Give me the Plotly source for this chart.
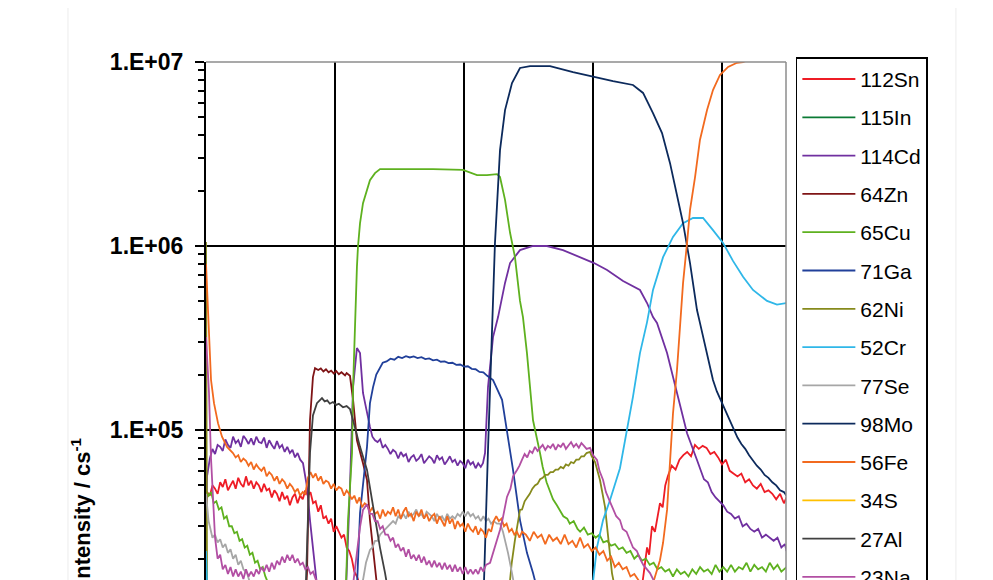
import plotly.graph_objects as go

# depth profile, (time / s, intensity / cps)
sn112 = [(0, 3.5e4), (0.8, 4.6e4), (3, 4.4e4), (5, 5.0e4), (7, 4.8e4), (9, 4.5e4), (11, 5.2e4),
         (13, 4.9e4), (15, 5.4e4), (17, 4.7e4), (19, 5.0e4), (21, 5.3e4), (23, 4.8e4), (25, 5.5e4),
         (27, 5.1e4), (29, 4.9e4), (31, 5.6e4), (33, 5.0e4), (35, 5.3e4), (37, 4.8e4), (39, 5.2e4),
         (41, 5.0e4), (43, 4.6e4), (45, 5.1e4), (47, 4.7e4), (49, 4.8e4), (51, 4.3e4), (53, 4.7e4),
         (55, 4.5e4), (57, 4.1e4), (59, 4.6e4), (61, 4.2e4), (63, 4.4e4), (65, 3.9e4), (67, 4.3e4),
         (69, 4.5e4), (71, 4.0e4), (73, 4.4e4), (75, 4.2e4), (77, 4.7e4), (79, 4.4e4), (81, 4.6e4),
         (83, 4.0e4), (85, 4.1e4), (87, 3.6e4), (89, 3.9e4), (91, 3.3e4), (93, 3.4e4), (95, 3.1e4),
         (97, 3.3e4), (99, 2.8e4), (101, 3.0e4), (103, 2.8e4), (105, 2.6e4), (107, 2.7e4),
         (109, 2.3e4), (111, 2.2e4), (113, 2.0e4), (115, 1.7e4), (117, 1.6e4), (123, 1.2e4),
         (140, 7e3), (200, 6e3), (260, 6e3), (320, 7e3), (336.4, 1.2e4), (339, 1.6e4),
         (341.9, 2.3e4), (343.5, 2.1e4), (345.7, 3.0e4), (348, 2.8e4), (351.9, 4.0e4), (354, 3.8e4),
         (356, 5.0e4), (358, 5.6e4), (361, 6.4e4), (364, 6.1e4), (367, 6.9e4), (370, 7.3e4),
         (373, 7.6e4), (376, 7.2e4), (379, 8.3e4), (382, 7.9e4), (385, 8.2e4), (388, 8.0e4),
         (391, 7.4e4), (394, 7.6e4), (397, 7.1e4), (400, 6.5e4), (403, 6.9e4), (406, 6.0e4),
         (409, 5.8e4), (412, 5.6e4), (415, 5.8e4), (418, 5.2e4), (421, 5.4e4), (424, 5.0e4),
         (427, 4.8e4), (430, 5.1e4), (433, 4.6e4), (436, 4.7e4), (439, 4.5e4), (442, 4.2e4),
         (445, 4.5e4), (448, 4.0e4), (450, 4.3e4)]
in115 = [(0, 1.2e4), (2, 5e3), (100, 4e3), (200, 3e3), (300, 3e3), (450, 2.5e3)]
cd114 = [(0, 3.0e4), (0.8, 5.6e4), (3, 7.0e4), (5, 7.9e4), (7, 7.4e4), (9, 8.3e4), (11, 8.1e4),
         (13, 7.7e4), (15, 8.9e4), (17, 8.3e4), (19, 8.0e4), (21, 9.2e4), (23, 8.5e4), (25, 8.8e4),
         (27, 8.1e4), (29, 9.3e4), (31, 8.9e4), (33, 8.4e4), (35, 9.0e4), (37, 8.3e4), (39, 9.2e4),
         (41, 8.6e4), (43, 8.5e4), (45, 9.1e4), (47, 8.0e4), (49, 8.8e4), (51, 8.3e4), (53, 7.9e4),
         (55, 8.7e4), (57, 8.0e4), (59, 8.3e4), (61, 7.6e4), (63, 8.1e4), (65, 7.5e4), (67, 7.8e4),
         (69, 7.1e4), (71, 7.5e4), (73, 6.9e4), (75.2, 6.6e4), (78.3, 4.9e4), (80.6, 3.24e4),
         (84.5, 1.67e4), (88.4, 1.0e4), (100, 8e3), (107.8, 1.0e4), (111.6, 4.9e4), (114, 1.71e5),
         (117, 2.79e5), (119.4, 2.62e5), (121.7, 1.59e5), (124, 1.3e5), (127.1, 1.04e5),
         (129, 9.2e4), (131, 8.8e4), (133, 8.6e4), (135, 8.9e4), (137, 8.0e4), (139, 8.3e4),
         (141, 7.9e4), (143, 7.4e4), (145, 7.8e4), (147, 7.6e4), (149, 7.0e4), (151, 7.6e4),
         (153, 7.2e4), (155, 7.4e4), (157, 6.7e4), (159, 7.1e4), (161, 7.3e4), (163, 6.8e4),
         (165, 7.0e4), (167, 7.4e4), (169, 6.6e4), (171, 6.9e4), (173, 7.2e4), (175, 7.0e4),
         (177, 6.6e4), (179, 7.3e4), (181, 6.9e4), (183, 7.1e4), (185, 6.5e4), (187, 6.8e4),
         (189, 7.2e4), (191, 6.7e4), (193, 6.9e4), (195, 6.4e4), (197, 6.8e4), (199, 6.6e4),
         (201, 6.2e4), (203, 6.9e4), (205, 6.5e4), (207, 6.7e4), (209, 6.2e4), (211, 6.6e4),
         (213, 6.3e4), (214.7, 6.6e4), (216.3, 7.5e4), (218.6, 1.71e5), (222.5, 3.2e5),
         (226.4, 4.11e5), (231.8, 6.3e5), (235.7, 8.08e5), (243.4, 9.5e5), (253.5, 1.0e6),
         (264.3, 1.0e6), (276.7, 9.5e5), (289.9, 8.7e5), (300.8, 8.08e5), (310.9, 7.4e5),
         (323.3, 6.46e5), (336.4, 5.77e5), (341.9, 4.9e5), (346.5, 4.11e5), (349.6, 3.82e5),
         (357.4, 2.62e5), (365.1, 1.59e5), (372.9, 9.6e4), (380.6, 6.87e4), (383, 6.1e4),
         (386, 5.4e4), (389, 5.2e4), (392, 4.6e4), (395, 4.3e4), (398, 4.1e4), (401, 3.9e4),
         (404, 3.6e4), (407, 3.5e4), (410, 3.3e4), (413, 3.4e4), (416, 3.0e4), (419, 3.1e4),
         (422, 2.9e4), (425, 2.8e4), (428, 2.9e4), (431, 2.6e4), (434, 2.7e4), (437, 2.6e4),
         (440, 2.5e4), (443, 2.6e4), (446, 2.3e4), (448.8, 2.4e4), (450, 2.2e4)]
zn64 = [(0, 4e3), (70, 5e3), (76.7, 1.0e4), (78.3, 1.67e4), (80.6, 1.13e5), (82.9, 1.94e5),
        (84.5, 2.17e5), (87, 2.12e5), (89, 2.16e5), (91, 2.08e5), (93, 2.14e5), (95, 2.06e5),
        (97, 2.1e5), (99, 2.03e5), (101, 2.09e5), (103, 2.01e5), (105, 2.06e5), (107.8, 1.98e5),
        (109, 2.04e5), (111.6, 1.97e5), (114, 1.46e5), (117, 8.8e4), (121.7, 6.6e4),
        (124.8, 5.35e4), (127.1, 3.24e4), (129.5, 2.15e4), (134.9, 1.0e4), (145, 5e3), (450, 3e3)]
cu65 = [(0, 4.7e4), (2, 4.4e4), (4, 4.6e4), (6, 4.0e4), (8, 4.1e4), (10, 3.7e4), (12, 3.8e4),
        (14, 3.3e4), (16, 3.4e4), (18, 3.0e4), (20, 3.0e4), (22, 2.75e4), (24, 2.8e4), (26, 2.5e4),
        (28, 2.55e4), (30, 2.3e4), (32, 2.35e4), (34, 2.1e4), (36, 2.15e4), (38, 1.9e4),
        (40, 1.95e4), (42, 1.75e4), (44, 1.8e4), (46, 1.6e4), (49.6, 1.4e4), (65, 1.0e4),
        (96.1, 8e3), (107.8, 1.0e4), (110.1, 3.24e4), (113.2, 7.5e4), (114, 1.71e5),
        (115.5, 4.11e5), (117, 7.7e5), (117.8, 9.9e5), (119.4, 1.33e6), (121.7, 1.71e6),
        (124.8, 2.01e6), (127.1, 2.28e6), (131, 2.49e6), (134.9, 2.62e6), (150.4, 2.62e6),
        (176, 2.62e6), (199.2, 2.59e6), (210.1, 2.43e6), (217.8, 2.43e6), (225.6, 2.46e6),
        (227.9, 2.37e6), (231.8, 1.78e6), (235.7, 1.18e6), (239.5, 8.7e5), (243.4, 5.03e5),
        (245.7, 4.11e5), (248.8, 2.62e5), (253.5, 1.13e5), (258.9, 7.5e4), (261, 6.3e4),
        (264, 5.2e4), (267, 4.6e4), (269, 4.2e4), (272, 3.9e4), (275, 3.6e4), (277, 3.4e4),
        (280, 3.3e4), (282, 3.1e4), (285, 3.2e4), (288, 2.9e4), (290, 2.8e4), (293, 2.95e4),
        (296, 2.7e4), (299, 2.75e4), (302, 2.6e4), (305, 2.7e4), (308, 2.45e4), (311, 2.5e4),
        (314, 2.35e4), (317, 2.4e4), (320, 2.25e4), (323, 2.3e4), (326, 2.15e4), (329, 2.2e4),
        (332, 2.0e4), (335, 2.1e4), (338, 1.95e4), (341, 2.0e4), (344, 1.85e4), (347, 1.9e4),
        (350, 1.75e4), (353, 1.8e4), (356, 1.7e4), (359, 1.75e4), (362, 1.6e4), (365, 1.75e4),
        (368, 1.65e4), (371, 1.7e4), (374, 1.6e4), (377, 1.75e4), (380, 1.65e4), (383, 1.8e4),
        (386, 1.7e4), (389, 1.75e4), (392, 1.65e4), (395, 1.85e4), (398, 1.7e4), (401, 1.8e4),
        (404, 1.7e4), (407, 1.85e4), (410, 1.7e4), (413, 1.8e4), (416, 1.75e4), (419, 1.9e4),
        (422, 1.7e4), (425, 1.85e4), (428, 1.75e4), (431, 1.8e4), (434, 1.7e4), (437, 1.9e4),
        (440, 1.75e4), (443, 1.85e4), (446, 1.7e4), (450, 1.8e4)]
ga71 = [(0, 3e3), (100, 4e3), (111.6, 1.0e4), (117, 1.4e4), (119.4, 3.54e4), (121.7, 4.9e4),
        (124.8, 8.1e4), (127.1, 1.4e5), (129.5, 1.71e5), (132, 2.0e5), (134.9, 2.2e5),
        (137, 2.32e5), (140, 2.36e5), (143, 2.44e5), (146, 2.41e5), (149, 2.5e5), (152, 2.46e5),
        (155, 2.52e5), (158, 2.48e5), (161, 2.51e5), (164, 2.46e5), (167, 2.49e5), (170, 2.43e5),
        (173, 2.45e5), (176, 2.39e5), (179, 2.41e5), (182, 2.35e5), (185, 2.36e5), (188, 2.31e5),
        (191, 2.32e5), (194, 2.26e5), (197, 2.27e5), (200, 2.21e5), (203, 2.22e5), (206, 2.15e5),
        (209, 2.14e5), (212, 2.07e5), (215, 2.06e5), (218, 1.97e5), (222.5, 1.87e5),
        (229.5, 1.46e5), (233.3, 9.9e4), (238, 6.07e4), (243.4, 3.24e4), (248.8, 2.15e4),
        (253.5, 1.67e4), (258.9, 1.2e4), (270, 6e3), (450, 3e3)]
ni62 = [(0, 1.05e6), (0.8, 1.5e4), (6, 1.45e4), (30, 1.2e4), (60, 1.4e4), (100, 1.0e4),
        (200, 1.0e4), (230, 1.2e4), (235.7, 1.53e4), (237, 1.9e4), (239.5, 2.53e4), (241, 2.9e4),
        (243.4, 3.68e4), (245, 3.7e4), (247, 4.1e4), (249, 4.3e4), (251, 4.5e4), (253, 4.8e4),
        (255, 5.0e4), (257, 5.1e4), (259, 5.4e4), (261, 5.5e4), (263, 5.7e4), (265, 5.7e4),
        (267, 5.9e4), (269, 5.9e4), (271, 6.1e4), (273, 6.1e4), (275, 6.3e4), (277, 6.2e4),
        (279, 6.5e4), (281, 6.4e4), (283, 6.7e4), (285, 6.6e4), (287, 6.9e4), (289, 6.9e4),
        (291, 7.2e4), (293, 7.2e4), (295, 7.5e4), (297.7, 7.6e4), (299, 7.2e4), (301.6, 6.7e4),
        (305.4, 5.35e4), (309.3, 3.82e4), (311.6, 2.62e4), (314.7, 1.67e4), (320.9, 1.0e4),
        (340, 6e3), (450, 5e3)]
cr52 = [(0, 2.2e4), (1.5, 1.0e4), (5, 5e3), (100, 4e3), (290, 5e3), (297.7, 1.0e4), (300, 1.5e4),
        (303.1, 2.31e4), (307.8, 3.24e4), (313.2, 4.17e4), (320.9, 6.2e4), (326.4, 9.9e4),
        (331, 1.52e5), (336.4, 2.62e5), (341.9, 3.86e5), (346.5, 5.77e5), (354.3, 8.7e5),
        (362, 1.12e6), (369.8, 1.33e6), (377.5, 1.42e6), (385.3, 1.42e6), (393, 1.22e6),
        (400.8, 1.04e6), (408.5, 8.3e5), (416.3, 6.8e5), (424, 5.77e5), (434.9, 5.03e5),
        (442.6, 4.8e5), (448.8, 4.9e5), (450, 4.9e5)]
se77 = [(0, 4.5e4), (0.8, 4.0e4), (2, 3.2e4), (3.1, 2.97e4), (5, 2.6e4), (7, 2.7e4), (9, 2.45e4),
        (11, 2.55e4), (13, 2.3e4), (15, 2.4e4), (17, 2.15e4), (19, 2.25e4), (21, 2.0e4),
        (23, 2.1e4), (25, 1.85e4), (27, 1.95e4), (29, 1.75e4), (31.8, 1.67e4), (34, 1.5e4),
        (38, 1.2e4), (60, 7e3), (100, 6e3), (115.5, 1.0e4), (121.7, 1.53e4), (124, 1.9e4),
        (127.1, 2.23e4), (129, 2.3e4), (131, 2.5e4), (133, 2.5e4), (135, 2.7e4), (137, 2.8e4),
        (139, 2.9e4), (141, 3.0e4), (143, 3.1e4), (145, 3.2e4), (147, 3.1e4), (149, 3.4e4),
        (151, 3.3e4), (153, 3.5e4), (155, 3.3e4), (157, 3.6e4), (159, 3.4e4), (161, 3.5e4),
        (163, 3.7e4), (165, 3.4e4), (167, 3.5e4), (169, 3.3e4), (171, 3.6e4), (173, 3.5e4),
        (175, 3.4e4), (177, 3.2e4), (179, 3.5e4), (181, 3.3e4), (183, 3.4e4), (185, 3.2e4),
        (187, 3.5e4), (189, 3.3e4), (191, 3.4e4), (193, 3.3e4), (195, 3.5e4), (197, 3.4e4),
        (199, 3.6e4), (201, 3.4e4), (203, 3.6e4), (205, 3.4e4), (207, 3.5e4), (209, 3.3e4),
        (211, 3.4e4), (213, 3.2e4), (215, 3.4e4), (217, 3.2e4), (219, 3.3e4), (221, 3.1e4),
        (223, 3.2e4), (225.6, 3.1e4), (228, 3.1e4), (230.2, 2.8e4), (234.1, 2.15e4),
        (237.2, 1.67e4), (241.9, 1.1e4), (260, 6e3), (450, 4e3)]
mo98 = [(0, 4e3), (150, 5e3), (204.7, 8e3), (215.5, 1.5e4), (218.6, 7.8e4), (221.7, 3.91e5),
        (224, 1.04e6), (227.9, 3.32e6), (231.8, 5.48e6), (237.2, 7.69e6), (243.4, 9.28e6),
        (251.2, 9.5e6), (266.7, 9.5e6), (284.5, 8.82e6), (300.8, 8.28e6), (315.5, 7.88e6),
        (331, 7.5e6), (338.8, 6.79e6), (346.5, 5.28e6), (353.5, 4.11e6), (359.7, 2.82e6),
        (365.1, 1.85e6), (369.8, 1.33e6), (375.2, 8.08e5), (380.6, 4.49e5), (382.9, 3.82e5),
        (388.4, 2.62e5), (393, 1.87e5), (396, 1.62e5), (400, 1.4e5), (403, 1.24e5), (406, 1.12e5),
        (409, 1.0e5), (412, 9.1e4), (415, 8.4e4), (418, 7.9e4), (421, 7.3e4), (424, 6.8e4),
        (427, 6.4e4), (430, 6.1e4), (433, 5.7e4), (436, 5.5e4), (439, 5.2e4), (442, 5.0e4),
        (445, 4.7e4), (448, 4.6e4), (450, 4.4e4)]
fe56 = [(0, 8e5), (0.8, 5.8e5), (2.3, 3.5e5), (3.9, 1.87e5), (6.2, 1.4e5), (9.3, 1.09e5),
        (12.4, 9.2e4), (16.3, 8.1e4), (20.9, 7.5e4), (23, 7.1e4), (25, 7.3e4), (27, 6.7e4),
        (29, 7.0e4), (31, 6.8e4), (33, 6.4e4), (35, 6.7e4), (37, 6.1e4), (39, 6.5e4), (41, 6.2e4),
        (43, 6.0e4), (45, 6.3e4), (47, 5.6e4), (49, 5.9e4), (51, 5.7e4), (53, 5.3e4), (55, 5.6e4),
        (57, 5.1e4), (59, 5.4e4), (61, 5.2e4), (63, 4.8e4), (65, 5.1e4), (67, 4.9e4), (69, 4.6e4),
        (71, 4.8e4), (73, 4.4e4), (75, 4.6e4), (77, 4.5e4), (79, 5.5e4), (81, 5.9e4), (83, 5.5e4),
        (85, 5.8e4), (87, 5.3e4), (89, 5.6e4), (91, 5.1e4), (93, 5.3e4), (95, 5.2e4), (97, 4.8e4),
        (99, 5.1e4), (101, 4.7e4), (103, 4.9e4), (105, 4.8e4), (107, 4.4e4), (109, 4.7e4),
        (111, 4.5e4), (113, 4.2e4), (115, 4.4e4), (117, 4.0e4), (119, 4.3e4), (121, 3.8e4),
        (123, 4.0e4), (125, 3.9e4), (127, 3.6e4), (129, 3.8e4), (131, 3.5e4), (133, 3.6e4),
        (135, 3.3e4), (137, 3.7e4), (139, 3.4e4), (141, 3.6e4), (143, 3.5e4), (145, 3.8e4),
        (147, 3.4e4), (149, 3.7e4), (151, 3.3e4), (153, 3.6e4), (155, 3.8e4), (157, 3.4e4),
        (159, 3.5e4), (161, 3.2e4), (163, 3.6e4), (165, 3.4e4), (167, 3.7e4), (169, 3.3e4),
        (171, 3.5e4), (173, 3.2e4), (175, 3.4e4), (177, 3.5e4), (179, 3.1e4), (181, 3.4e4),
        (183, 3.2e4), (185, 3.0e4), (187, 3.4e4), (189, 3.1e4), (191, 3.3e4), (193, 2.9e4),
        (195, 3.2e4), (197, 3.0e4), (199, 3.1e4), (201, 2.8e4), (203, 3.1e4), (205, 2.9e4),
        (207, 2.8e4), (209, 3.0e4), (211, 2.7e4), (213, 2.9e4), (215, 2.8e4), (217, 2.6e4),
        (219, 2.9e4), (221, 2.8e4), (223, 3.2e4), (225, 3.4e4), (227, 3.2e4), (229, 3.3e4),
        (231, 3.0e4), (233, 3.1e4), (235, 2.8e4), (237, 2.9e4), (239, 2.7e4), (241, 2.8e4),
        (243, 2.6e4), (245, 2.8e4), (248, 2.7e4), (251, 2.5e4), (254, 2.8e4), (257, 2.6e4),
        (260, 2.7e4), (263, 2.4e4), (266, 2.7e4), (269, 2.5e4), (272, 2.6e4), (275, 2.4e4),
        (278, 2.7e4), (281, 2.4e4), (284, 2.5e4), (287, 2.3e4), (290, 2.6e4), (293, 2.3e4),
        (296, 2.4e4), (299, 2.2e4), (302, 2.3e4), (305, 2.1e4), (308, 2.2e4), (311, 1.95e4),
        (314, 2.05e4), (317, 1.8e4), (320, 1.9e4), (323, 1.75e4), (326, 1.8e4), (329, 1.6e4),
        (332, 1.65e4), (336, 1.5e4), (340, 1.4e4), (344.2, 1.3e4), (351.9, 1.96e4),
        (354.3, 2.44e4), (357.4, 3.68e4), (359.7, 6.87e4), (362, 1.23e5), (365.1, 2.12e5),
        (367.4, 3.86e5), (369.8, 6.3e5), (372.9, 1.04e6), (375.2, 1.57e6), (379.1, 2.37e6),
        (382.9, 3.77e6), (388.4, 5.48e6), (393, 7.04e6), (398.4, 8.5e6), (404.7, 9.4e6),
        (411.6, 9.9e6), (416.3, 1.0e7), (429.5, 1.08e7), (450, 1.12e7)]
s34 = [(0, 5e3), (100, 3e3), (250, 3e3), (450, 3e3)]
al27 = [(0, 3e3), (72.9, 5e3), (76.7, 1.0e4), (79, 3e4), (80.6, 7.5e4), (82.9, 1.2e5), (86, 1.4e5),
        (89.9, 1.49e5), (92, 1.43e5), (94, 1.45e5), (96, 1.39e5), (98.4, 1.42e5), (101, 1.37e5),
        (103, 1.39e5), (106.2, 1.33e5), (109, 1.35e5), (111.6, 1.3e5), (114, 1.13e5),
        (119.4, 8.1e4), (124.8, 6.07e4), (129.5, 3.77e4), (134.9, 2.29e4), (138.8, 1.67e4),
        (144.2, 1.0e4), (160, 5e3), (450, 3e3)]
na23 = [(0, 3.2e5), (2.3, 1.6e5), (3.9, 7e4), (5.4, 4.5e4), (7, 2.6e4), (9, 2.0e4), (11, 2.1e4),
        (13, 1.75e4), (15, 1.85e4), (17, 1.65e4), (19, 1.8e4), (21, 1.6e4), (23, 1.75e4),
        (25, 1.6e4), (27, 1.7e4), (29, 1.55e4), (31, 1.75e4), (33, 1.6e4), (35, 1.7e4),
        (37, 1.6e4), (39, 1.75e4), (41, 1.65e4), (43, 1.8e4), (45, 1.7e4), (47, 1.85e4),
        (49, 1.7e4), (51, 1.9e4), (53, 1.75e4), (55, 1.95e4), (57, 1.85e4), (59, 2.05e4),
        (61, 1.9e4), (63, 2.1e4), (65, 1.95e4), (67, 2.1e4), (69, 1.9e4), (71, 2.0e4),
        (73, 1.85e4), (75, 1.9e4), (77, 1.75e4), (79, 1.8e4), (81, 1.65e4), (83, 1.7e4),
        (85, 1.55e4), (88.4, 1.4e4), (103.9, 9e3), (113.2, 1.3e4), (117, 2.15e4), (119.4, 2.97e4),
        (121.7, 3.68e4), (124.8, 3.95e4), (127, 3.5e4), (129, 3.5e4), (131, 3.2e4), (133, 3.2e4),
        (135, 2.9e4), (137, 3.0e4), (139, 2.7e4), (141, 2.7e4), (143, 2.5e4), (145, 2.6e4),
        (147, 2.3e4), (149, 2.4e4), (151, 2.2e4), (153, 2.3e4), (155, 2.05e4), (157, 2.25e4),
        (159, 2.0e4), (161, 2.1e4), (163, 1.95e4), (165, 2.1e4), (167, 1.9e4), (169, 2.05e4),
        (171, 1.85e4), (173, 1.95e4), (175, 1.8e4), (177, 1.95e4), (179, 1.8e4), (181, 1.9e4),
        (183, 1.75e4), (185, 1.9e4), (187, 1.75e4), (189, 1.85e4), (191, 1.7e4), (193, 1.85e4),
        (195, 1.7e4), (197, 1.8e4), (199, 1.65e4), (201, 1.8e4), (203, 1.65e4), (205, 1.75e4),
        (207, 1.65e4), (209, 1.75e4), (211, 1.65e4), (213, 1.8e4), (215, 1.7e4), (217, 1.85e4),
        (220.2, 1.9e4), (224, 2.3e4), (227.9, 2.86e4), (230, 3.3e4), (233.3, 4.33e4),
        (236, 4.8e4), (238, 5.6e4), (241.1, 6.07e4), (243, 6.4e4), (245, 6.9e4), (247, 7.4e4),
        (249, 7.1e4), (251, 7.7e4), (253, 7.5e4), (255, 8.1e4), (257, 7.7e4), (259, 8.0e4),
        (261, 8.3e4), (263, 7.8e4), (265, 8.2e4), (267, 8.0e4), (269, 8.4e4), (271, 7.8e4),
        (273, 8.3e4), (275, 8.1e4), (277, 8.5e4), (279, 7.9e4), (281, 8.2e4), (283, 8.6e4),
        (285, 8.1e4), (287, 8.4e4), (289, 8.0e4), (291, 8.5e4), (293, 8.2e4), (295, 7.9e4),
        (297.7, 8.0e4), (300, 7.3e4), (303.1, 6.87e4), (305, 6.0e4), (307.8, 5.35e4),
        (310, 4.6e4), (313.2, 4.07e4), (316, 3.7e4), (318, 3.4e4), (320.9, 3.24e4), (323, 2.9e4),
        (326, 2.8e4), (328.7, 2.53e4), (331, 2.3e4), (334, 2.2e4), (336.4, 2e4), (339, 1.85e4),
        (342, 1.75e4), (344.2, 1.67e4), (351.9, 1.3e4), (370, 8e3), (450, 6e3)]

series = [
    ("112Sn", sn112, "#ee1c25"),
    ("115In", in115, "#0b7a34"),
    ("114Cd", cd114, "#7030a0"),
    ("64Zn", zn64, "#7f1416"),
    ("65Cu", cu65, "#5eb11f"),
    ("71Ga", ga71, "#21409a"),
    ("62Ni", ni62, "#868a1c"),
    ("52Cr", cr52, "#2fb7e8"),
    ("77Se", se77, "#a6a6a6"),
    ("98Mo", mo98, "#0c2a5c"),
    ("56Fe", fe56, "#f26a1f"),
    ("34S", s34, "#ffc000"),
    ("27Al", al27, "#404040"),
    ("23Na", na23, "#b24fa3"),
]

fig = go.Figure()
for name, pts, col in series:
    fig.add_trace(go.Scatter(
        x=[p[0] for p in pts], y=[p[1] for p in pts], name=name, legendgroup=name,
        mode="lines", line=dict(color=col, width=1.8)))

decades = [1e4, 1e5, 1e6, 1e7]
minor_vals = [d * k for d in [1e4, 1e5, 1e6] for k in range(2, 10)]

# page body has an 8px margin; the figure runs past the window bottom like the cropped original
fig.update_layout(
    width=985, height=640,
    margin=dict(l=198, r=207, t=54, b=68),
    paper_bgcolor="white", plot_bgcolor="white",
    font=dict(family="Liberation Sans, Arial, sans-serif", color="black"),
    showlegend=True,
    legend=dict(x=1.017, y=1.009, xanchor="left", yanchor="top",
                bordercolor="black", borderwidth=1.5, bgcolor="white",
                font=dict(size=21), tracegroupgap=8, itemwidth=53, maxheight=900),
    xaxis=dict(range=[0, 449.6], showgrid=True, gridcolor="black", gridwidth=1.5,
               dtick=100, tick0=0, showticklabels=False, zeroline=False, ticks=""),
    yaxis=dict(type="log", range=[4.185, 7], showgrid=True, gridcolor="black", gridwidth=1.5,
               tickmode="array", tickvals=decades, ticktext=["1.E+04", "1.E+05", "1.E+06", "1.E+07"],
               tickfont=dict(size=23, weight="bold"), ticks="outside", ticklen=9,
               tickwidth=1.5, tickcolor="black", ticklabelstandoff=7,
               showline=True, linecolor="black", linewidth=2, zeroline=False,
               minor=dict(tickmode="array", tickvals=minor_vals, ticks="outside", ticklen=6,
                          tickwidth=1.5, tickcolor="black", showgrid=False)),
    annotations=[dict(text="Intensity / cs<sup>-1</sup>", textangle=-90, xref="paper", yref="paper",
                      x=-0.216, y=0.133, xanchor="center", yanchor="middle", showarrow=False,
                      font=dict(size=22, weight="bold"))],
    shapes=[
        dict(type="line", xref="paper", yref="paper", x0=0, x1=1, y0=1, y1=1,
             line=dict(color="#8c8c8c", width=1.5), layer="above"),
        dict(type="line", xref="paper", yref="paper", x0=1, x1=1, y0=0, y1=1,
             line=dict(color="#8c8c8c", width=1.5), layer="above"),
        dict(type="line", xref="paper", yref="paper", x0=-0.238, x1=-0.238, y0=-0.2, y1=1.2,
             line=dict(color="#ececec", width=1)),
        dict(type="line", xref="paper", yref="paper", x0=1.293, x1=1.293, y0=-0.2, y1=1.2,
             line=dict(color="#ececec", width=1)),
    ],
)

fig.write_html("out.html")
